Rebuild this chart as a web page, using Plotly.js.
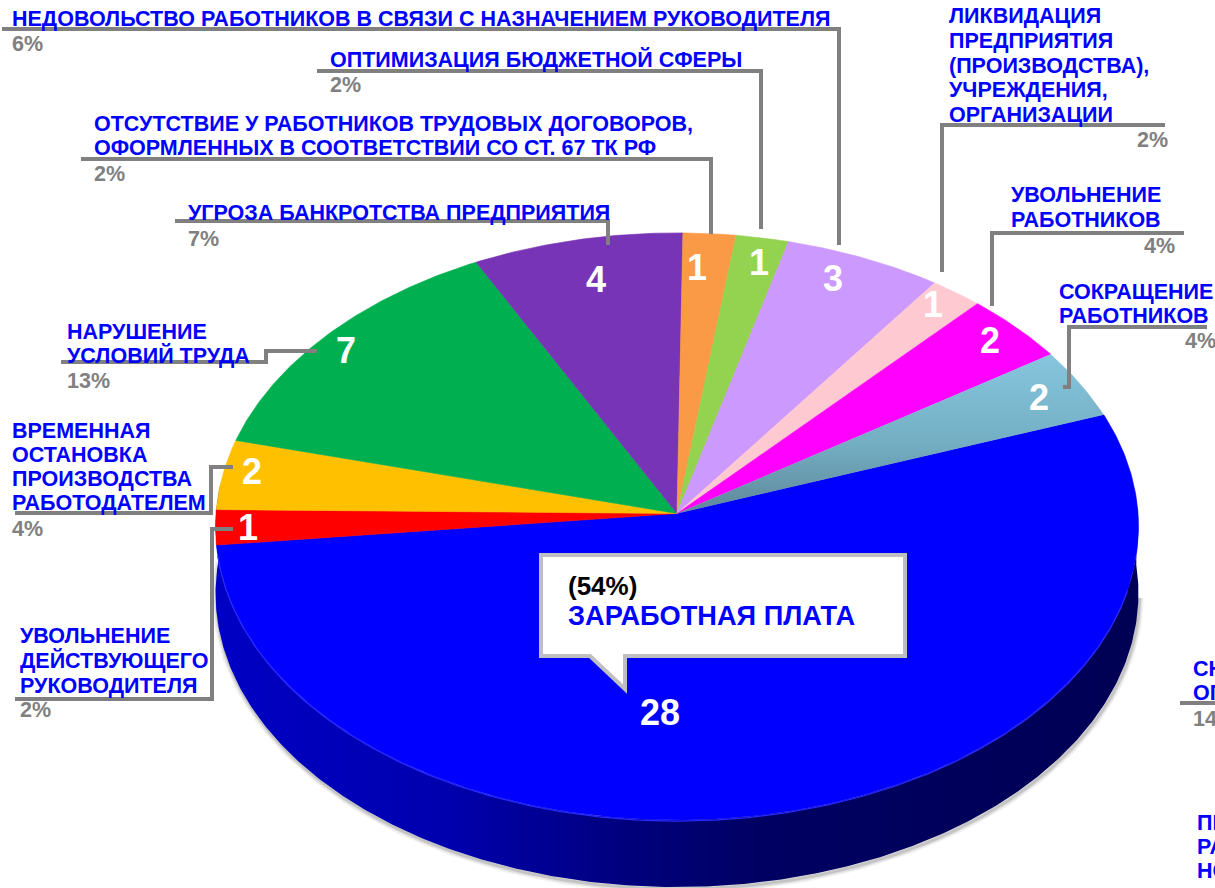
<!DOCTYPE html>
<html>
<head>
<meta charset="utf-8">
<script src="https://cdn.plot.ly/plotly-3.0.1.min.js"></script>
<style>html,body{margin:0;padding:0;background:#fff;overflow:hidden}#chart{width:1215px;height:888px}</style>
</head>
<body>
<div id="chart"></div>
<script>
// ---- data ----
const categories = ["ЗАРАБОТНАЯ ПЛАТА","УВОЛЬНЕНИЕ ДЕЙСТВУЮЩЕГО РУКОВОДИТЕЛЯ","ВРЕМЕННАЯ ОСТАНОВКА ПРОИЗВОДСТВА РАБОТОДАТЕЛЕМ","НАРУШЕНИЕ УСЛОВИЙ ТРУДА","УГРОЗА БАНКРОТСТВА ПРЕДПРИЯТИЯ","ОТСУТСТВИЕ У РАБОТНИКОВ ТРУДОВЫХ ДОГОВОРОВ, ОФОРМЛЕННЫХ В СООТВЕТСТВИИ СО СТ. 67 ТК РФ","ОПТИМИЗАЦИЯ БЮДЖЕТНОЙ СФЕРЫ","НЕДОВОЛЬСТВО РАБОТНИКОВ В СВЯЗИ С НАЗНАЧЕНИЕМ РУКОВОДИТЕЛЯ","ЛИКВИДАЦИЯ ПРЕДПРИЯТИЯ (ПРОИЗВОДСТВА), УЧРЕЖДЕНИЯ, ОРГАНИЗАЦИИ","УВОЛЬНЕНИЕ РАБОТНИКОВ","СОКРАЩЕНИЕ РАБОТНИКОВ"];
const counts = [28,1,2,7,4,1,1,3,1,2,2];
const percents = ["54%","2%","4%","13%","7%","2%","2%","6%","2%","4%","4%"];

// label lines per category (category text wrapped as in the picture)
const labelLines = [
  [],
  ["УВОЛЬНЕНИЕ","ДЕЙСТВУЮЩЕГО","РУКОВОДИТЕЛЯ"],
  ["ВРЕМЕННАЯ","ОСТАНОВКА","ПРОИЗВОДСТВА","РАБОТОДАТЕЛЕМ"],
  ["НАРУШЕНИЕ","УСЛОВИЙ ТРУДА"],
  ["УГРОЗА БАНКРОТСТВА ПРЕДПРИЯТИЯ"],
  ["ОТСУТСТВИЕ У РАБОТНИКОВ ТРУДОВЫХ ДОГОВОРОВ,","ОФОРМЛЕННЫХ В СООТВЕТСТВИИ СО СТ. 67 ТК РФ"],
  ["ОПТИМИЗАЦИЯ БЮДЖЕТНОЙ СФЕРЫ"],
  ["НЕДОВОЛЬСТВО РАБОТНИКОВ В СВЯЗИ С НАЗНАЧЕНИЕМ РУКОВОДИТЕЛЯ"],
  ["ЛИКВИДАЦИЯ","ПРЕДПРИЯТИЯ","(ПРОИЗВОДСТВА),","УЧРЕЖДЕНИЯ,","ОРГАНИЗАЦИИ"],
  ["УВОЛЬНЕНИЕ","РАБОТНИКОВ"],
  ["СОКРАЩЕНИЕ","РАБОТНИКОВ"]
];
// fragments of labels cut by the right edge of the picture
const clippedLines = ["СН","ОП","ПЕ","РА","НО"];
const clippedPercent = "14%";

// ---- styles and layout (not data) ----
const sliceColors = ["#0000FF","#FF0000","#FFC000","#00B050","#7834B6","#FA9A46","#94D34F","#CC99FF","#FFC9D2","#FF00FF","#7FB9CF"];
const apex = {x:677, y:513.5}, radX = 461, radY = 293, persp = 0.0442, depth = 67, startDeg = 20;
const valueLabelPos = [[660,712],[248,527],[252,471],[346,350],[596,279],[697,267],[759,262],[833,278],[933,304],[990,340],[1039,397]];
const labelX = [0,20,12,67,188,94,330,12,949,1011,1059];
const labelY = [[],[635,660,685],[430,454,478,502],[331,355],[212],[123,147],[59],[18],[15,40,65,89,114],[194,219],[291,315]];
const pctPos = [null,[20,709],[12,528],[67,380],[188,238],[94,173],[330,84],[12,43],[1137,139],[1144,245],[1185,340]];
const clippedPos = [[1193,668],[1193,692],[1197,822],[1197,846],[1197,870]];
const clippedPctPos = [1193,718];
const leaders = [
  [[2,839,839],[29,29,245]],
  [[317,761,761],[71,71,229]],
  [[81,711,711],[159,159,234]],
  [[175,608,608],[221,221,245]],
  [[942,942,1165],[272,125,125]],
  [[992,992,1184],[306,233,233]],
  [[1063,1069,1069,1207],[387,387,327,327]],
  [[61,266,266,317],[362,362,351,351]],
  [[15,211,211,233],[513,513,467,467]],
  [[15,212,212,233],[699,699,529,529]],
  [[1180,1215],[703,703]]
];
const BLUE = "#0000FF", GREY = "#808080";
const LABEL_SIZE = 21.5, PCT_SIZE = 21.5, VALUE_SIZE = 36;
const FONT = "Liberation Sans, Arial, sans-serif";

// perspective projection of a rim angle (degrees, counter-clockwise from +x)
function rim(deg){
  const t = deg*Math.PI/180, w = 1 + persp*Math.sin(t);
  return [apex.x + radX*Math.cos(t)/w, apex.y - radY*Math.sin(t)/w];
}
function arc(from,to,dy){
  const xs=[],ys=[],n=Math.max(2,Math.ceil(Math.abs(to-from)*2));
  for(let i=0;i<=n;i++){const p=rim(from+(to-from)*i/n);xs.push(p[0]);ys.push(p[1]+(dy||0));}
  return [xs,ys];
}
const traces=[];
// soft shadow round the wall
const outer = arc(-3,-184,depth);
[[9,.05],[6,.07],[3,.12]].forEach(s=>traces.push({type:"scatter",mode:"lines",x:outer[0].map(v=>v+1),y:outer[1].map(v=>v+2),
  line:{color:"rgba(0,0,0,"+s[1]+")",width:s[0]},hoverinfo:"skip",showlegend:false}));
// wall under the largest slice
const wallTop = arc(3,-186,0), wallBot = arc(-186,3,depth);
traces.push({type:"scatter",mode:"lines",fill:"toself",x:wallTop[0].concat(wallBot[0]),y:wallTop[1].concat(wallBot[1]),
  line:{width:0,color:"#000060"},hoverinfo:"skip",showlegend:false,
  fillcolor:"#000060",
  fillgradient:{type:"horizontal",colorscale:[[0,"#0000C4"],[0.25,"#0000AE"],[0.45,"#00007C"],[0.6,"#000062"],[1,"#000054"]]}});
// slices
const total = counts.reduce((a,b)=>a+b,0);
let ang = startDeg;
counts.forEach((c,i)=>{
  const sweep = c/total*360, a = arc(ang,ang-sweep,0);
  const tr = {type:"scatter",mode:"lines",fill:"toself",name:categories[i],
    x:[apex.x].concat(a[0],[apex.x]),y:[apex.y].concat(a[1],[apex.y]),
    line:{width:0.6,color:sliceColors[i]},fillcolor:sliceColors[i],
    text:categories[i]+": "+c+" ("+percents[i]+")",hoverinfo:"text",showlegend:false};
  if(i===counts.length-1){
    tr.line={width:0,color:sliceColors[i]};
    tr.fillgradient={type:"vertical",colorscale:[[0,"#5F8799"],[0.45,"#74AFC4"],[1,"#86C6DE"]]};
  }
  traces.push(tr);
  ang -= sweep;
});
// thin highlight on the front rim
const hi = arc(-15,-172,1);
traces.push({type:"scatter",mode:"lines",x:hi[0],y:hi[1],line:{color:"#2A2AFF",width:1.2},hoverinfo:"skip",showlegend:false});
// leader lines
leaders.forEach(l=>traces.push({type:"scatter",mode:"lines",x:l[0],y:l[1],line:{color:GREY,width:4,shape:"linear"},hoverinfo:"skip",showlegend:false}));

const annotations=[];
function note(x,y,text,color,size,anchor){
  annotations.push({x,y:y+0.8,xref:"x",yref:"y",text:"<b>"+text+"</b>",showarrow:false,xanchor:anchor||"left",yanchor:"middle",align:"left",
    font:{family:FONT,size,color},borderpad:0,borderwidth:0});
}
labelLines.forEach((lines,i)=>{
  lines.forEach((ln,j)=>note(labelX[i],labelY[i][j],ln,BLUE,LABEL_SIZE));
  if(pctPos[i]) note(pctPos[i][0],pctPos[i][1],percents[i],GREY,PCT_SIZE);
});
clippedLines.forEach((ln,i)=>note(clippedPos[i][0],clippedPos[i][1],ln,BLUE,LABEL_SIZE));
note(clippedPctPos[0],clippedPctPos[1],clippedPercent,GREY,PCT_SIZE);
counts.forEach((c,i)=>note(valueLabelPos[i][0],valueLabelPos[i][1],String(c),"#FFFFFF",VALUE_SIZE,"center"));
// callout
note(568,585,"("+percents[0]+")","#000000",26);
note(568,615,categories[0],BLUE,27.2);

const layout={
  width:1215,height:888,margin:{l:0,r:0,t:0,b:0},paper_bgcolor:"#fff",plot_bgcolor:"#fff",showlegend:false,
  xaxis:{range:[0,1215],visible:false,fixedrange:true},
  yaxis:{range:[888,0],visible:false,fixedrange:true},
  shapes:[{type:"path",xref:"x",yref:"y",layer:"above",path:"M541,555 L905,555 L905,656 L625,656 L625,689 L590,656 L541,656 Z",
    fillcolor:"#FFFFFF",line:{color:"#BFBFBF",width:4}}],
  annotations
};
Plotly.newPlot("chart",traces,layout,{displayModeBar:false});
</script>
</body>
</html>
